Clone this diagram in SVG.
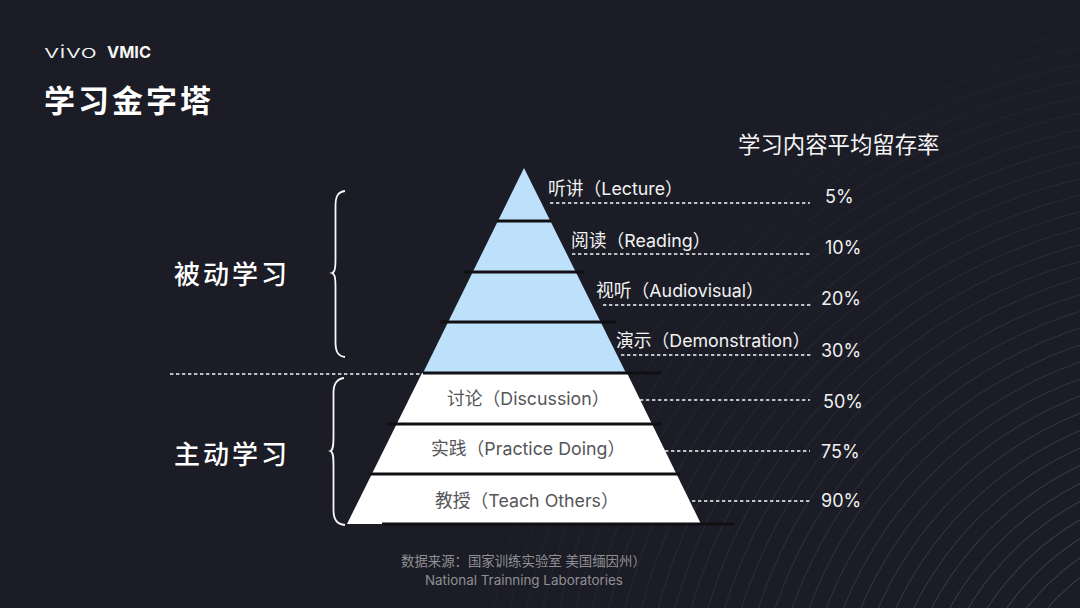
<svg xmlns="http://www.w3.org/2000/svg" width="1080" height="608" viewBox="0 0 1080 608">
<style>
text{font-family:"Inter","Noto Sans CJK SC",sans-serif}
.lat{font-size:17.8px;fill:#f2f2f2}
.dark{font-size:17.8px;fill:#555559}
.pct{font-size:18px;fill:#f0f0f0}
.big{font-size:26px;fill:#fff;font-weight:500;letter-spacing:3px}
.dash{stroke:#f5f5f5;stroke-width:1.7;stroke-dasharray:3.4 2.6;fill:none}
.bar{stroke:#101014;stroke-width:2.8;fill:none}
.brace{stroke:#f8f8f8;stroke-width:1.8;fill:none}
.wave{stroke:url(#fade);stroke-width:1;fill:none}
.src{font-size:13.4px;fill:#909094}
</style>
<defs>
<radialGradient id="fade" gradientUnits="userSpaceOnUse" cx="1220" cy="760" r="770">
<stop offset="0.3" stop-color="#44454d"/>
<stop offset="0.6" stop-color="#2f3038"/>
<stop offset="1" stop-color="#1e1f28"/>
</radialGradient>
</defs>
<rect width="1080" height="608" fill="#1b1c25"/>
<g id="background">
<circle class="wave" cx="1220" cy="760" r="230"/><circle class="wave" cx="1220" cy="760" r="246"/><circle class="wave" cx="1220" cy="760" r="262"/><circle class="wave" cx="1220" cy="760" r="278"/><circle class="wave" cx="1220" cy="760" r="294"/><circle class="wave" cx="1220" cy="760" r="310"/><circle class="wave" cx="1220" cy="760" r="326"/><circle class="wave" cx="1220" cy="760" r="342"/><circle class="wave" cx="1220" cy="760" r="358"/><circle class="wave" cx="1220" cy="760" r="374"/><circle class="wave" cx="1220" cy="760" r="390"/><circle class="wave" cx="1220" cy="760" r="406"/><circle class="wave" cx="1220" cy="760" r="422"/><circle class="wave" cx="1220" cy="760" r="438"/><circle class="wave" cx="1220" cy="760" r="454"/><circle class="wave" cx="1220" cy="760" r="470"/><circle class="wave" cx="1220" cy="760" r="486"/><circle class="wave" cx="1220" cy="760" r="502"/><circle class="wave" cx="1220" cy="760" r="518"/><circle class="wave" cx="1220" cy="760" r="534"/><circle class="wave" cx="1220" cy="760" r="550"/><circle class="wave" cx="1220" cy="760" r="566"/><circle class="wave" cx="1220" cy="760" r="582"/><circle class="wave" cx="1220" cy="760" r="598"/><circle class="wave" cx="1220" cy="760" r="614"/><circle class="wave" cx="1220" cy="760" r="630"/><circle class="wave" cx="1220" cy="760" r="646"/><circle class="wave" cx="1220" cy="760" r="662"/><circle class="wave" cx="1220" cy="760" r="678"/><circle class="wave" cx="1220" cy="760" r="694"/><circle class="wave" cx="1220" cy="760" r="710"/><circle class="wave" cx="1220" cy="760" r="726"/><circle class="wave" cx="1220" cy="760" r="742"/>
</g>
<g id="logo"><text x="44" y="58" font-size="17" fill="#f5f5f5" font-weight="300" textLength="53" lengthAdjust="spacingAndGlyphs">vivo</text><text x="107" y="58" font-size="16" fill="#f5f5f5" font-weight="700" textLength="44" lengthAdjust="spacingAndGlyphs">VMIC</text></g>
<text id="title" x="44" y="112" font-size="31" fill="#fff" font-weight="700" letter-spacing="3">学习金字塔</text>
<text id="rate-title" x="738" y="153" font-size="22.4" fill="#f5f5f5">学习内容平均留存率</text>
<g id="pyramid">
<polygon points="524,168 423,373 626,373" fill="#bde0fb"/>
<polygon points="422,373 627,373 701,524 347,524" fill="#fff"/>
</g>
<g id="connectors">
<path class="bar" d="M497 221H551M464 272H584M440 322H616M423 373H662M387 424H662M370 474H680M382 524H734"/>
<path class="dash" d="M550 203H810M572 254H812M603 305H812M621 355H812M170 374H423M640 400H810M665 451H810M692 501H810"/>
</g>
<g id="brace-passive"><path class="brace" d="M345 191C338 192 335.5 196 335.5 206V258C335.5 268 335 272 332 273C335 274 335.5 278 335.500 288V342C335.500 352 338 356 345 357"/></g>
<g id="brace-active"><path class="brace" d="M344 378C337 379 333.500 383 333.500 393V436C333.500 446 333 450 330.500 451C333 452 333.500 456 333.500 466V510C333.500 520 337 524 345 525"/></g>
<text id="label-passive" class="big" x="174" y="284">被动学习</text>
<text id="label-active" class="big" x="174" y="464">主动学习</text>
<g id="level-1"><text class="lat" x="548" y="195">听讲（Lecture）</text><text class="pct" x="825" y="203">5%</text></g>
<g id="level-2"><text class="lat" x="571" y="247">阅读（Reading）</text><text class="pct" x="825" y="254">10%</text></g>
<g id="level-3"><text class="lat" x="596" y="297">视听（Audiovisual）</text><text class="pct" x="821" y="305">20%</text></g>
<g id="level-4"><text class="lat" x="616" y="347">演示（Demonstration）</text><text class="pct" x="821" y="357">30%</text></g>
<g id="level-5"><text class="dark" x="447" y="405">讨论（Discussion）</text><text class="pct" x="823" y="408">50%</text></g>
<g id="level-6"><text class="dark" x="431" y="455">实践（Practice Doing）</text><text class="pct" x="821" y="458">75%</text></g>
<g id="level-7"><text class="dark" x="435" y="507">教授（Teach Others）</text><text class="pct" x="821" y="507">90%</text></g>
<g id="source"><text class="src" x="401" y="566">数据来源：国家训练实验室 美国缅因州）</text><text class="src" x="425" y="585">National Trainning Laboratories</text></g>
</svg>
